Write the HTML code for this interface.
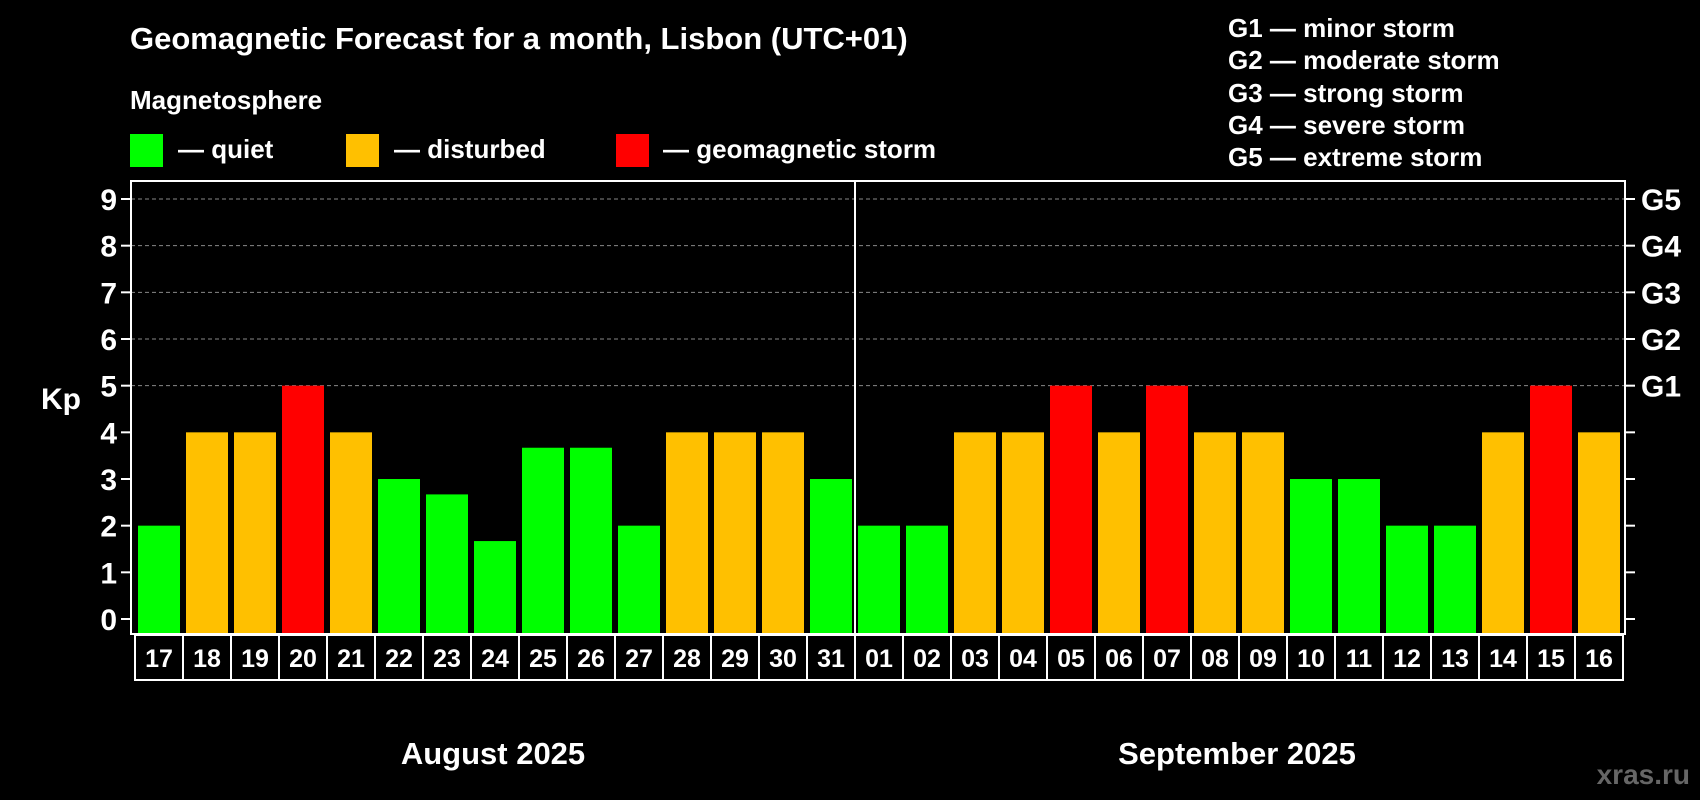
<!DOCTYPE html>
<html><head><meta charset="utf-8"><style>
html,body{margin:0;padding:0;background:#000;width:1700px;height:800px;overflow:hidden}
svg text{font-family:"Liberation Sans",Arial,sans-serif;font-weight:bold;fill:#fff}
</style></head><body>
<svg id="c" width="1700" height="800" xmlns="http://www.w3.org/2000/svg">
<text x="130" y="49" font-size="31">Geomagnetic Forecast for a month, Lisbon (UTC+01)</text>
<text x="130" y="109" font-size="26">Magnetosphere</text>
<g>
<rect x="130" y="134" width="33" height="33" fill="#00ff00"/>
<text x="178" y="158" font-size="26">— quiet</text>
<rect x="346" y="134" width="33" height="33" fill="#ffc000"/>
<text x="394" y="158" font-size="26">— disturbed</text>
<rect x="616" y="134" width="33" height="33" fill="#ff0000"/>
<text x="663" y="158" font-size="26">— geomagnetic storm</text>
</g>
<g font-size="26">
<text x="1228" y="37">G1 — minor storm</text>
<text x="1228" y="69">G2 — moderate storm</text>
<text x="1228" y="102">G3 — strong storm</text>
<text x="1228" y="134">G4 — severe storm</text>
<text x="1228" y="166">G5 — extreme storm</text>
</g>
<text x="41" y="409" font-size="30">Kp</text>
<g id="plot"></g>
<text x="493" y="764" font-size="31" text-anchor="middle">August 2025</text>
<text x="1237" y="764" font-size="31" text-anchor="middle">September 2025</text>
<text x="1690" y="784" font-size="28" text-anchor="end" style="fill:#666">xras.ru</text>
</svg>
<script>
const days = ["17","18","19","20","21","22","23","24","25","26","27","28","29","30","31","01","02","03","04","05","06","07","08","09","10","11","12","13","14","15","16"];
const kp = [2,4,4,5,4,3,2.67,1.67,3.67,3.67,2,4,4,4,3,2,2,4,4,5,4,5,4,4,3,3,2,2,4,5,4];
const yTicks = [0,1,2,3,4,5,6,7,8,9];
const gLabels = ["G1","G2","G3","G4","G5"];
const NS="http://www.w3.org/2000/svg";
const g=document.getElementById('plot');
const L=131,R=1625,T=181,B=634,y0=619,unit=(619-199)/9,x0=138,pitch=48,bw=42;
const y=v=>y0-v*unit, x=i=>x0+i*pitch;
function mk(t,a){const e=document.createElementNS(NS,t);for(const k in a)e.setAttribute(k,a[k]);g.appendChild(e);return e;}
yTicks.forEach(v=>{
  if(v>=5){const e=mk('line',{x1:L,x2:R,y1:y(v),y2:y(v),stroke:'#888','stroke-width':1,'stroke-dasharray':'4,3'});
  
  }
  const t1=mk('line',{x1:L-10,x2:L,y1:y(v),y2:y(v),stroke:'#fff','stroke-width':2});
  
  
  const t2=mk('line',{x1:R,x2:R+10,y1:y(v),y2:y(v),stroke:'#fff','stroke-width':2});
  
  
  const tx=mk('text',{x:117,y:y(v)+11,'font-size':30,'text-anchor':'end'});tx.textContent=v;
  
  
});
gLabels.forEach((s,i)=>{const t=mk('text',{x:1641,y:y(i+5)+11,'font-size':30});t.textContent=s;
  
  });
kp.forEach((v,i)=>{
  const col=v>=5?'#ff0000':v>=4?'#ffc000':'#00ff00';
  const r=mk('rect',{x:x(i),y:y(v),width:bw,height:B-y(v),fill:col});
  
  
  const c=mk('rect',{x:x(i)-3,y:B+1,width:pitch,height:45,fill:'none',stroke:'#fff','stroke-width':2});
  
  
  const t=mk('text',{x:x(i)+bw/2,y:B+33,'font-size':25,'text-anchor':'middle'});t.textContent=days[i];
  
  
});
const f=mk('rect',{x:L,y:T,width:R-L,height:B-T,fill:'none',stroke:'#fff','stroke-width':2});


const dv=mk('line',{x1:x(15)-3,x2:x(15)-3,y1:T,y2:B,stroke:'#fff','stroke-width':2});


</script>
</body></html>
